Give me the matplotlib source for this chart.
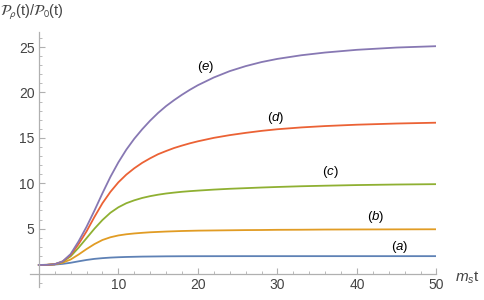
import matplotlib
matplotlib.use('Agg')
import matplotlib.pyplot as plt
from matplotlib.ticker import MultipleLocator

# values
t = [0, 1, 2, 3, 4, 5, 6, 7, 8, 9, 10, 11, 12, 13, 14, 15, 16, 17, 18, 19, 20,
     22, 24, 26, 28, 30, 33, 36, 40, 45, 50]
curve_a = [1.0, 1.01, 1.04, 1.12, 1.24, 1.4, 1.55, 1.67, 1.75, 1.81, 1.85, 1.88, 1.9, 1.92,
           1.93, 1.94, 1.95, 1.955, 1.96, 1.962, 1.964, 1.966, 1.968, 1.97, 1.97, 1.97,
           1.97, 1.97, 1.97, 1.97, 1.97]
curve_b = [1.0, 1.01, 1.07, 1.25, 1.6, 2.15, 2.75, 3.3, 3.75, 4.05, 4.25, 4.38, 4.47, 4.54,
           4.6, 4.64, 4.68, 4.71, 4.74, 4.76, 4.78, 4.8, 4.82, 4.84, 4.85, 4.87, 4.88,
           4.9, 4.91, 4.92, 4.93]
curve_c = [1.0, 1.01, 1.08, 1.35, 1.95, 2.9, 3.95, 5.0, 5.95, 6.75, 7.35, 7.8, 8.12, 8.38,
           8.58, 8.74, 8.87, 8.97, 9.06, 9.13, 9.19, 9.3, 9.39, 9.46, 9.53, 9.59, 9.67,
           9.73, 9.8, 9.86, 9.9]
curve_d = [1.0, 1.01, 1.08, 1.38, 2.1, 3.3, 4.7, 6.3, 7.8, 9.05, 10.1, 10.95, 11.65, 12.25,
           12.75, 13.2, 13.55, 13.88, 14.15, 14.4, 14.62, 15.0, 15.3, 15.55, 15.77, 15.95,
           16.15, 16.3, 16.45, 16.58, 16.67]
curve_e = [1.0, 1.01, 1.08, 1.4, 2.2, 3.6, 5.2, 7.0, 8.9, 10.7, 12.3, 13.7, 14.9, 15.95,
           16.9, 17.75, 18.5, 19.15, 19.75, 20.3, 20.8, 21.65, 22.35, 22.9, 23.35, 23.7,
           24.1, 24.4, 24.7, 24.95, 25.1]

labels = ['a', 'b', 'c', 'd', 'e']
label_x = [45.4, 42.3, 36.6, 29.8, 21.0]
label_y = [2.96, 6.27, 11.2, 17.2, 22.8]
colors = ['#5e81b5', '#e19c24', '#8fb032', '#eb6235', '#8778b3']

plt.rcParams['font.family'] = ['Liberation Sans', 'DejaVu Sans']
plt.rcParams['mathtext.fontset'] = 'custom'
plt.rcParams['mathtext.rm'] = 'Liberation Sans'
plt.rcParams['mathtext.it'] = 'Liberation Sans:italic'

fig = plt.figure(figsize=(4.85, 3.0), dpi=100)
ax = fig.add_axes([0.062, 0.043, 0.838, 0.85])

for y, c in zip([curve_a, curve_b, curve_c, curve_d, curve_e], colors):
    ax.plot(t, y, color=c, lw=1.3)

for lab, x, y in zip(labels, label_x, label_y):
    ax.text(x, y, '$(' + lab + ')$', ha='center', va='center', fontsize=9.5,
            color='black')

ax.set_xlim(-1.1, 50)
ax.set_ylim(-1.44, 26.65)

for side in ['top', 'right']:
    ax.spines[side].set_visible(False)
ax.spines['left'].set_position(('data', 0))
ax.spines['bottom'].set_position(('data', 0))
for side in ['left', 'bottom']:
    ax.spines[side].set_color('#b0b0b0')
    ax.spines[side].set_linewidth(0.9)

ax.xaxis.set_minor_locator(MultipleLocator(2))
ax.yaxis.set_minor_locator(MultipleLocator(1))
ax.set_xticks([10, 20, 30, 40, 50])
ax.set_yticks([5, 10, 15, 20, 25])
ax.tick_params(which='major', direction='in', length=4, width=0.8, color='#b0b0b0',
               labelsize=10, labelcolor='#444444', pad=3)
ax.tick_params(which='minor', direction='in', length=2.2, width=0.6, color='#b0b0b0')

fig.text(0.0, 0.96, r'$\mathcal{P}_\rho$(t)/$\mathcal{P}_0$(t)', fontsize=10.5,
         color='#444444', ha='left', va='center', math_fontfamily='stixsans')
fig.text(0.938, 0.075, r'$m_{s}\mathrm{t}$', fontsize=11, color='#444444',
         ha='left', va='center')

plt.savefig('out.png', dpi=100)
